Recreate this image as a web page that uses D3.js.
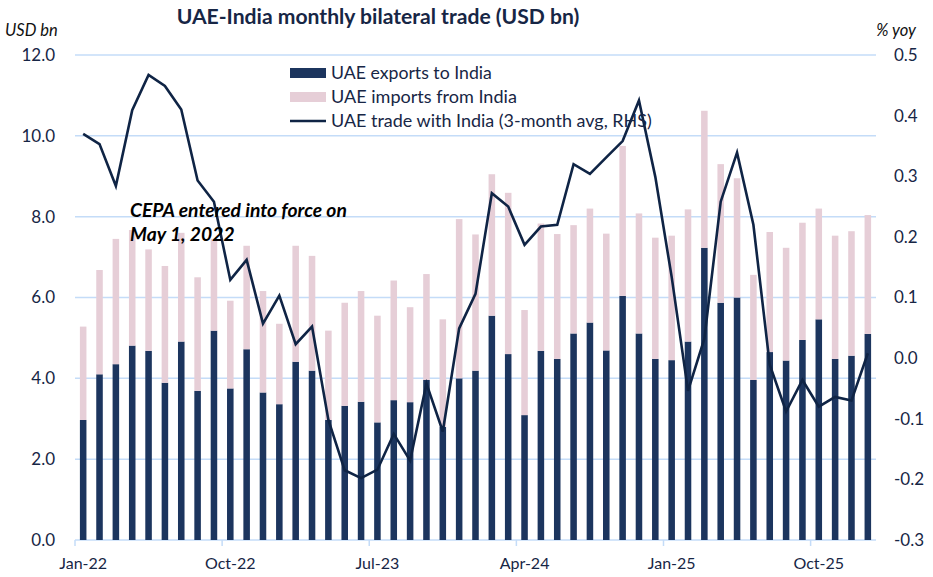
<!DOCTYPE html>
<html>
<head>
<meta charset="utf-8">
<script src="https://cdn.jsdelivr.net/npm/d3@7"></script>
<style>
  body { margin: 0; background: #fff; }
  svg { display: block; font-family: Lato, "Open Sans", sans-serif; }
</style>
</head>
<body>
<div id="chart"></div>
<script>
// monthly categories, Jan-22 .. Jan-26
const months = ['Jan-22','Feb-22','Mar-22','Apr-22','May-22','Jun-22','Jul-22','Aug-22','Sep-22','Oct-22','Nov-22','Dec-22',
  'Jan-23','Feb-23','Mar-23','Apr-23','May-23','Jun-23','Jul-23','Aug-23','Sep-23','Oct-23','Nov-23','Dec-23',
  'Jan-24','Feb-24','Mar-24','Apr-24','May-24','Jun-24','Jul-24','Aug-24','Sep-24','Oct-24','Nov-24','Dec-24',
  'Jan-25','Feb-25','Mar-25','Apr-25','May-25','Jun-25','Jul-25','Aug-25','Sep-25','Oct-25','Nov-25','Dec-25','Jan-26'];

// USD bn
const exportsToIndia = [2.97,4.10,4.35,4.81,4.68,3.89,4.91,3.69,5.18,3.75,4.72,3.65,
  3.36,4.41,4.19,2.97,3.32,3.42,2.91,3.46,3.41,3.96,2.80,4.00,
  4.19,5.55,4.60,3.09,4.68,4.48,5.11,5.38,4.69,6.04,5.11,4.48,
  4.45,4.91,7.23,5.87,6.00,3.96,4.65,4.44,4.95,5.46,4.48,4.56,5.10];
const importsFromIndia = [2.31,2.58,3.10,2.86,2.51,2.89,2.69,2.81,2.27,2.17,2.56,2.51,
  1.99,2.87,2.84,2.21,2.55,2.74,2.64,2.96,2.35,2.62,2.66,3.94,
  3.37,3.50,3.99,2.60,3.15,3.09,2.68,2.82,2.89,3.71,2.97,3.00,
  3.08,3.27,3.39,3.43,2.95,2.60,2.97,2.79,2.90,2.74,3.05,3.08,2.94];
// % yoy, 3-month avg (RHS)
const tradeYoy = [0.370,0.353,0.284,0.409,0.467,0.449,0.410,0.293,0.258,0.129,0.162,0.057,
  0.103,0.023,0.052,-0.102,-0.185,-0.198,-0.184,-0.125,-0.169,-0.042,-0.121,0.049,
  0.106,0.272,0.250,0.187,0.217,0.220,0.320,0.304,0.331,0.358,0.425,0.299,
  0.134,-0.054,0.032,0.258,0.339,0.220,-0.011,-0.088,-0.036,-0.080,-0.064,-0.070,0.008];

const xTickLabels = ['Jan-22','Oct-22','Jul-23','Apr-24','Jan-25','Oct-25'];
const leftTicks = [0,2,4,6,8,10,12];
const rightTicks = [-0.3,-0.2,-0.1,0,0.1,0.2,0.3,0.4,0.5];

const W = 933, H = 577;
const plotL = 75, plotR = 876, plotT = 55, plotB = 540;
const navy = '#1c355e', pink = '#e6ced7', lineCol = '#0f2445', grid = '#c4dcf8', txt = '#172645';

const svg = d3.select('#chart').append('svg').attr('width', W).attr('height', H);

const x = d3.scaleBand().domain(months).range([plotL, plotR]).paddingInner(0.6).paddingOuter(0.3);
const yL = d3.scaleLinear().domain([0, 12]).range([plotB, plotT]);
const yR = d3.scaleLinear().domain([-0.3, 0.5]).range([plotB, plotT]);

// shrink/grow a text so that it spans the given width
function fit(sel, w) {
  const n = sel.node();
  const fs = parseFloat(sel.style('font-size'));
  sel.style('font-size', (fs * w / n.getComputedTextLength()) + 'px');
}

// gridlines
svg.append('g').selectAll('line').data(leftTicks).join('line')
  .attr('x1', plotL).attr('x2', plotR)
  .attr('y1', d => yL(d)).attr('y2', d => yL(d))
  .attr('stroke', grid).attr('stroke-width', 1.5);

// stacked bars
const rows = months.map((m, i) => ({ m, exp: exportsToIndia[i], imp: importsFromIndia[i] }));
const stack = d3.stack().keys(['exp', 'imp'])(rows);
const colors = [navy, pink];

svg.append('g').selectAll('g').data(stack).join('g')
  .attr('fill', (d, i) => colors[i])
  .selectAll('rect').data(d => d).join('rect')
  .attr('x', d => x(d.data.m))
  .attr('width', x.bandwidth())
  .attr('y', d => yL(d[1]))
  .attr('height', d => yL(d[0]) - yL(d[1]));

// x axis ticks
const step = x.step();
const tickIdx = xTickLabels.map(l => months.indexOf(l));
svg.append('g').selectAll('line').data(tickIdx).join('line')
  .attr('x1', i => x(months[i]) - step * 0.3).attr('x2', i => x(months[i]) - step * 0.3)
  .attr('y1', plotB).attr('y2', plotB + 6)
  .attr('stroke', grid).attr('stroke-width', 1.5);

svg.append('g').selectAll('text').data(tickIdx).join('text')
  .attr('x', i => x(months[i]) + x.bandwidth() / 2)
  .attr('y', 563).attr('dy', '0.35em')
  .attr('text-anchor', 'middle').attr('fill', txt)
  .style('font-size', '16px')
  .text(i => months[i]);

// line (RHS)
const line = d3.line()
  .x((d, i) => x(months[i]) + x.bandwidth() / 2)
  .y(d => yR(d));

svg.append('path').datum(tradeYoy)
  .attr('d', line)
  .attr('fill', 'none').attr('stroke', lineCol).attr('stroke-width', 2.6)
  .attr('stroke-linejoin', 'miter');

// left axis labels
svg.append('g').selectAll('text').data(leftTicks).join('text')
  .attr('x', 55).attr('y', d => yL(d)).attr('dy', '0.35em')
  .attr('text-anchor', 'end').attr('fill', txt)
  .style('font-size', '17px')
  .text(d => d.toFixed(1));

// right axis labels
svg.append('g').selectAll('text').data(rightTicks).join('text')
  .attr('x', 894).attr('y', d => yR(d)).attr('dy', '0.35em')
  .attr('text-anchor', 'start').attr('fill', txt)
  .style('font-size', '17px')
  .text(d => d.toFixed(1));

// axis titles
svg.append('text').attr('x', 5).attr('y', 36)
  .attr('fill', '#111').style('font-style', 'italic').style('font-size', '16.5px')
  .text('USD bn');
svg.append('text').attr('x', 916).attr('y', 36).attr('text-anchor', 'end')
  .attr('fill', '#111').style('font-style', 'italic').style('font-size', '16.5px')
  .text('% yoy');

// title
const title = svg.append('text').attr('x', 378).attr('y', 24).attr('text-anchor', 'middle')
  .attr('fill', txt).style('font-weight', 'bold').style('font-size', '17px')
  .text('UAE-India monthly bilateral trade (USD bn)');
fit(title, 403);

// legend
const legend = [
  { label: 'UAE exports to India', type: 'bar', color: navy, w: 161 },
  { label: 'UAE imports from India', type: 'bar', color: pink, w: 186 },
  { label: 'UAE trade with India (3-month avg, RHS)', type: 'line', color: lineCol, w: 321 }
];
const lg = svg.append('g').selectAll('g').data(legend).join('g')
  .attr('transform', (d, i) => `translate(290, ${73 + i * 24})`);
lg.filter(d => d.type === 'bar').append('rect')
  .attr('x', 0).attr('y', -5).attr('width', 36).attr('height', 10).attr('fill', d => d.color);
lg.filter(d => d.type === 'line').append('line')
  .attr('x1', 0).attr('x2', 36).attr('y1', 0).attr('y2', 0)
  .attr('stroke', d => d.color).attr('stroke-width', 2.5);
lg.append('text').attr('x', 41).attr('dy', '0.35em')
  .attr('fill', txt).style('font-size', '16px')
  .text(d => d.label)
  .each(function(d) { fit(d3.select(this), d.w); });

// annotation
const note = svg.append('g').attr('fill', '#000')
  .style('font-weight', 'bold').style('font-style', 'italic').style('font-size', '15px');
const n1 = note.append('text').attr('x', 130).attr('y', 217).text('CEPA entered into force on');
fit(n1, 217);
note.append('text').attr('x', 130).attr('y', 241).style('font-size', n1.style('font-size')).text('May 1, 2022');
</script>
</body>
</html>
